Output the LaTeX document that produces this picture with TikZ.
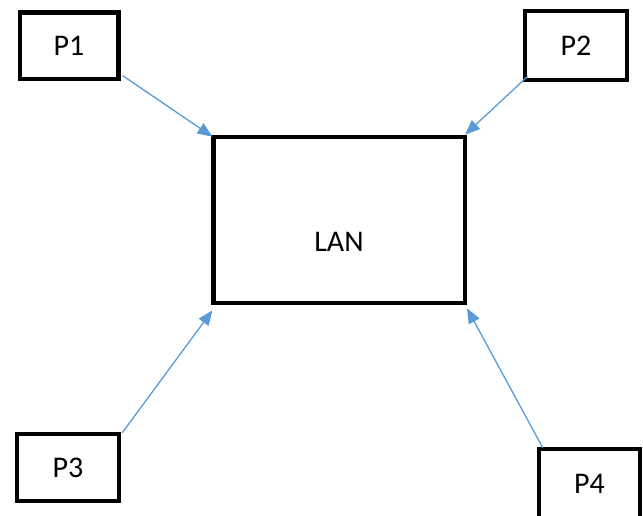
\documentclass[tikz,border=0pt]{standalone}
\usepackage{fontspec}
\setmainfont{Carlito}
\usetikzlibrary{arrows.meta}
\definecolor{arrowblue}{RGB}{91,155,213}
\begin{document}
\begin{tikzpicture}[x=1pt,y=-1pt,
  pbox/.style={draw=black, line width=4.5pt, fill=white, inner sep=0pt,
    font=\fontsize{30}{36}\selectfont},
  link/.style={draw=arrowblue, line width=1.3pt,
    -{Triangle[length=15pt,width=12pt]}}]
\useasboundingbox (0,0) rectangle (643,516);
\node[pbox, minimum width=98.5pt, minimum height=66.5pt] (p1) at (69,46) {P1};
\node[pbox, minimum width=102pt, minimum height=69pt] (p2) at (576,45.5) {\raisebox{-4pt}{P2}};
\node[pbox, minimum width=251.5pt, minimum height=166pt,
  label={[font=\fontsize{30}{36}\selectfont, yshift=-22pt]center:LAN}] (lan) at (339,220) {};
\node[pbox, minimum width=102pt, minimum height=67pt] (p3) at (68,467.5) {P3};
\node[pbox, minimum width=101pt, minimum height=70pt] (p4) at (589.5,484) {P4};
\draw[link] ([shift={(2pt,6pt)}]p1.south east) -- ([shift={(1.5pt,-2pt)}]lan.north west);
\draw[link] ([shift={(5pt,6pt)}]p2.south west) -- ([shift={(-2pt,0pt)}]lan.north east);
\draw[link] ([shift={(1pt,-1pt)}]p3.north east) -- ([shift={(1.5pt,-5pt)}]lan.south west);
\draw[link] ([shift={(6pt,-1pt)}]p4.north west) -- ([shift={(0pt,-3pt)}]lan.south east);
\end{tikzpicture}
\end{document}
